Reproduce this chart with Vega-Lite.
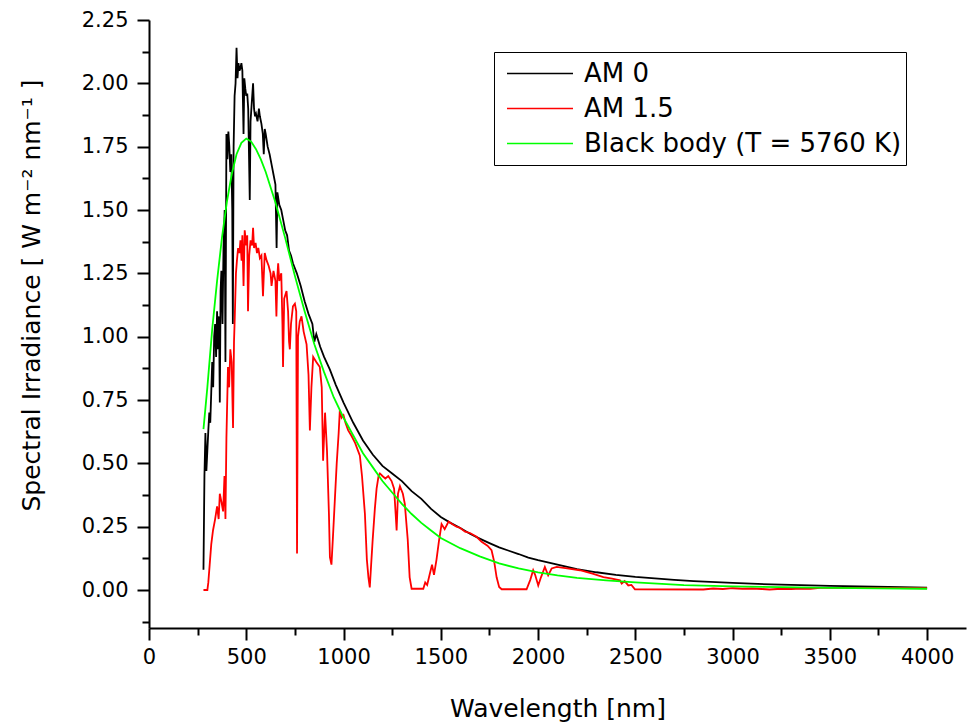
{
  "$schema": "https://vega.github.io/schema/vega-lite/v6.json",
  "width": 817,
  "height": 608,
  "autosize": {"type": "none"},
  "padding": {"left": 149, "top": 20, "right": 2, "bottom": 94},
  "background": "white",
  "data": {"values": [
    {"series":"AM 0","wavelength":280,"irradiance":0.08},{"series":"AM 0","wavelength":285,"irradiance":0.45},{"series":"AM 0","wavelength":290,"irradiance":0.62},{"series":"AM 0","wavelength":295,"irradiance":0.47},{"series":"AM 0","wavelength":300,"irradiance":0.55},{"series":"AM 0","wavelength":305,"irradiance":0.63},{"series":"AM 0","wavelength":310,"irradiance":0.70},{"series":"AM 0","wavelength":315,"irradiance":0.66},{"series":"AM 0","wavelength":320,"irradiance":0.78},{"series":"AM 0","wavelength":325,"irradiance":0.90},{"series":"AM 0","wavelength":330,"irradiance":0.80},{"series":"AM 0","wavelength":335,"irradiance":1.00},{"series":"AM 0","wavelength":340,"irradiance":1.05},{"series":"AM 0","wavelength":345,"irradiance":0.92},{"series":"AM 0","wavelength":350,"irradiance":1.10},{"series":"AM 0","wavelength":355,"irradiance":0.95},{"series":"AM 0","wavelength":360,"irradiance":1.08},{"series":"AM 0","wavelength":364,"irradiance":0.74},{"series":"AM 0","wavelength":368,"irradiance":1.18},{"series":"AM 0","wavelength":372,"irradiance":1.26},{"series":"AM 0","wavelength":378,"irradiance":1.05},{"series":"AM 0","wavelength":383,"irradiance":1.35},{"series":"AM 0","wavelength":389,"irradiance":1.50},{"series":"AM 0","wavelength":393,"irradiance":0.90},{"series":"AM 0","wavelength":398,"irradiance":1.80},{"series":"AM 0","wavelength":403,"irradiance":1.70},{"series":"AM 0","wavelength":408,"irradiance":1.81},{"series":"AM 0","wavelength":413,"irradiance":1.75},{"series":"AM 0","wavelength":418,"irradiance":1.65},{"series":"AM 0","wavelength":423,"irradiance":1.72},{"series":"AM 0","wavelength":428,"irradiance":1.50},{"series":"AM 0","wavelength":431,"irradiance":1.05},{"series":"AM 0","wavelength":435,"irradiance":1.75},{"series":"AM 0","wavelength":440,"irradiance":1.95},{"series":"AM 0","wavelength":445,"irradiance":2.00},{"series":"AM 0","wavelength":450,"irradiance":2.14},{"series":"AM 0","wavelength":455,"irradiance":2.02},{"series":"AM 0","wavelength":460,"irradiance":2.08},{"series":"AM 0","wavelength":465,"irradiance":2.05},{"series":"AM 0","wavelength":470,"irradiance":2.06},{"series":"AM 0","wavelength":475,"irradiance":2.08},{"series":"AM 0","wavelength":480,"irradiance":2.05},{"series":"AM 0","wavelength":486,"irradiance":1.80},{"series":"AM 0","wavelength":490,"irradiance":2.02},{"series":"AM 0","wavelength":495,"irradiance":1.98},{"series":"AM 0","wavelength":500,"irradiance":1.95},{"series":"AM 0","wavelength":505,"irradiance":1.96},{"series":"AM 0","wavelength":510,"irradiance":1.90},{"series":"AM 0","wavelength":518,"irradiance":1.54},{"series":"AM 0","wavelength":522,"irradiance":1.85},{"series":"AM 0","wavelength":528,"irradiance":1.92},{"series":"AM 0","wavelength":535,"irradiance":2.00},{"series":"AM 0","wavelength":540,"irradiance":1.90},{"series":"AM 0","wavelength":545,"irradiance":1.87},{"series":"AM 0","wavelength":550,"irradiance":1.88},{"series":"AM 0","wavelength":558,"irradiance":1.85},{"series":"AM 0","wavelength":565,"irradiance":1.90},{"series":"AM 0","wavelength":570,"irradiance":1.87},{"series":"AM 0","wavelength":578,"irradiance":1.84},{"series":"AM 0","wavelength":585,"irradiance":1.80},{"series":"AM 0","wavelength":590,"irradiance":1.72},{"series":"AM 0","wavelength":595,"irradiance":1.82},{"series":"AM 0","wavelength":600,"irradiance":1.80},{"series":"AM 0","wavelength":610,"irradiance":1.75},{"series":"AM 0","wavelength":620,"irradiance":1.72},{"series":"AM 0","wavelength":630,"irradiance":1.68},{"series":"AM 0","wavelength":640,"irradiance":1.64},{"series":"AM 0","wavelength":650,"irradiance":1.60},{"series":"AM 0","wavelength":656,"irradiance":1.35},{"series":"AM 0","wavelength":660,"irradiance":1.57},{"series":"AM 0","wavelength":670,"irradiance":1.52},{"series":"AM 0","wavelength":680,"irradiance":1.50},{"series":"AM 0","wavelength":690,"irradiance":1.46},{"series":"AM 0","wavelength":700,"irradiance":1.42},{"series":"AM 0","wavelength":710,"irradiance":1.40},{"series":"AM 0","wavelength":720,"irradiance":1.34},{"series":"AM 0","wavelength":730,"irradiance":1.32},{"series":"AM 0","wavelength":740,"irradiance":1.29},{"series":"AM 0","wavelength":750,"irradiance":1.27},{"series":"AM 0","wavelength":760,"irradiance":1.25},{"series":"AM 0","wavelength":780,"irradiance":1.20},{"series":"AM 0","wavelength":800,"irradiance":1.14},{"series":"AM 0","wavelength":820,"irradiance":1.09},{"series":"AM 0","wavelength":840,"irradiance":1.05},{"series":"AM 0","wavelength":850,"irradiance":0.98},{"series":"AM 0","wavelength":860,"irradiance":1.01},{"series":"AM 0","wavelength":880,"irradiance":0.96},{"series":"AM 0","wavelength":900,"irradiance":0.92},{"series":"AM 0","wavelength":930,"irradiance":0.87},{"series":"AM 0","wavelength":960,"irradiance":0.81},{"series":"AM 0","wavelength":1000,"irradiance":0.74},{"series":"AM 0","wavelength":1050,"irradiance":0.66},{"series":"AM 0","wavelength":1100,"irradiance":0.59},{"series":"AM 0","wavelength":1150,"irradiance":0.535},{"series":"AM 0","wavelength":1200,"irradiance":0.49},{"series":"AM 0","wavelength":1250,"irradiance":0.46},{"series":"AM 0","wavelength":1300,"irradiance":0.43},{"series":"AM 0","wavelength":1350,"irradiance":0.39},{"series":"AM 0","wavelength":1400,"irradiance":0.36},{"series":"AM 0","wavelength":1450,"irradiance":0.32},{"series":"AM 0","wavelength":1500,"irradiance":0.288},{"series":"AM 0","wavelength":1550,"irradiance":0.265},{"series":"AM 0","wavelength":1600,"irradiance":0.245},{"series":"AM 0","wavelength":1650,"irradiance":0.222},{"series":"AM 0","wavelength":1700,"irradiance":0.203},{"series":"AM 0","wavelength":1750,"irradiance":0.185},{"series":"AM 0","wavelength":1800,"irradiance":0.168},{"series":"AM 0","wavelength":1850,"irradiance":0.155},{"series":"AM 0","wavelength":1900,"irradiance":0.142},{"series":"AM 0","wavelength":1950,"irradiance":0.128},{"series":"AM 0","wavelength":2000,"irradiance":0.118},{"series":"AM 0","wavelength":2100,"irradiance":0.10},{"series":"AM 0","wavelength":2200,"irradiance":0.082},{"series":"AM 0","wavelength":2300,"irradiance":0.07},{"series":"AM 0","wavelength":2400,"irradiance":0.06},{"series":"AM 0","wavelength":2500,"irradiance":0.052},{"series":"AM 0","wavelength":2600,"irradiance":0.046},{"series":"AM 0","wavelength":2700,"irradiance":0.04},{"series":"AM 0","wavelength":2800,"irradiance":0.035},{"series":"AM 0","wavelength":3000,"irradiance":0.028},{"series":"AM 0","wavelength":3200,"irradiance":0.022},{"series":"AM 0","wavelength":3500,"irradiance":0.016},{"series":"AM 0","wavelength":3800,"irradiance":0.012},{"series":"AM 0","wavelength":4000,"irradiance":0.009},

    {"series":"AM 1.5","wavelength":280,"irradiance":0},{"series":"AM 1.5","wavelength":300,"irradiance":0},{"series":"AM 1.5","wavelength":305,"irradiance":0.03},{"series":"AM 1.5","wavelength":312,"irradiance":0.10},{"series":"AM 1.5","wavelength":320,"irradiance":0.18},{"series":"AM 1.5","wavelength":329,"irradiance":0.235},{"series":"AM 1.5","wavelength":340,"irradiance":0.28},{"series":"AM 1.5","wavelength":350,"irradiance":0.33},{"series":"AM 1.5","wavelength":358,"irradiance":0.28},{"series":"AM 1.5","wavelength":364,"irradiance":0.38},{"series":"AM 1.5","wavelength":372,"irradiance":0.35},{"series":"AM 1.5","wavelength":381,"irradiance":0.31},{"series":"AM 1.5","wavelength":388,"irradiance":0.45},{"series":"AM 1.5","wavelength":393,"irradiance":0.28},{"series":"AM 1.5","wavelength":398,"irradiance":0.60},{"series":"AM 1.5","wavelength":406,"irradiance":0.88},{"series":"AM 1.5","wavelength":412,"irradiance":0.80},{"series":"AM 1.5","wavelength":418,"irradiance":0.95},{"series":"AM 1.5","wavelength":425,"irradiance":0.90},{"series":"AM 1.5","wavelength":432,"irradiance":0.64},{"series":"AM 1.5","wavelength":437,"irradiance":0.98},{"series":"AM 1.5","wavelength":441,"irradiance":1.08},{"series":"AM 1.5","wavelength":447,"irradiance":1.25},{"series":"AM 1.5","wavelength":452,"irradiance":1.30},{"series":"AM 1.5","wavelength":458,"irradiance":1.35},{"series":"AM 1.5","wavelength":465,"irradiance":1.33},{"series":"AM 1.5","wavelength":470,"irradiance":1.38},{"series":"AM 1.5","wavelength":476,"irradiance":1.30},{"series":"AM 1.5","wavelength":480,"irradiance":1.40},{"series":"AM 1.5","wavelength":486,"irradiance":1.20},{"series":"AM 1.5","wavelength":492,"irradiance":1.42},{"series":"AM 1.5","wavelength":500,"irradiance":1.36},{"series":"AM 1.5","wavelength":505,"irradiance":1.40},{"series":"AM 1.5","wavelength":509,"irradiance":1.10},{"series":"AM 1.5","wavelength":515,"irradiance":1.32},{"series":"AM 1.5","wavelength":522,"irradiance":1.38},{"series":"AM 1.5","wavelength":530,"irradiance":1.36},{"series":"AM 1.5","wavelength":535,"irradiance":1.43},{"series":"AM 1.5","wavelength":540,"irradiance":1.35},{"series":"AM 1.5","wavelength":548,"irradiance":1.37},{"series":"AM 1.5","wavelength":555,"irradiance":1.33},{"series":"AM 1.5","wavelength":562,"irradiance":1.35},{"series":"AM 1.5","wavelength":570,"irradiance":1.31},{"series":"AM 1.5","wavelength":578,"irradiance":1.32},{"series":"AM 1.5","wavelength":586,"irradiance":1.16},{"series":"AM 1.5","wavelength":590,"irradiance":1.24},{"series":"AM 1.5","wavelength":595,"irradiance":1.33},{"series":"AM 1.5","wavelength":605,"irradiance":1.30},{"series":"AM 1.5","wavelength":615,"irradiance":1.28},{"series":"AM 1.5","wavelength":625,"irradiance":1.25},{"series":"AM 1.5","wavelength":630,"irradiance":1.20},{"series":"AM 1.5","wavelength":640,"irradiance":1.26},{"series":"AM 1.5","wavelength":650,"irradiance":1.22},{"series":"AM 1.5","wavelength":655,"irradiance":1.08},{"series":"AM 1.5","wavelength":660,"irradiance":1.24},{"series":"AM 1.5","wavelength":664,"irradiance":1.29},{"series":"AM 1.5","wavelength":670,"irradiance":1.22},{"series":"AM 1.5","wavelength":680,"irradiance":1.25},{"series":"AM 1.5","wavelength":686,"irradiance":1.05},{"series":"AM 1.5","wavelength":689,"irradiance":0.88},{"series":"AM 1.5","wavelength":695,"irradiance":1.15},{"series":"AM 1.5","wavelength":707,"irradiance":1.18},{"series":"AM 1.5","wavelength":715,"irradiance":1.10},{"series":"AM 1.5","wavelength":720,"irradiance":0.98},{"series":"AM 1.5","wavelength":724,"irradiance":0.95},{"series":"AM 1.5","wavelength":730,"irradiance":1.05},{"series":"AM 1.5","wavelength":740,"irradiance":1.12},{"series":"AM 1.5","wavelength":750,"irradiance":1.13},{"series":"AM 1.5","wavelength":757,"irradiance":1.10},{"series":"AM 1.5","wavelength":761,"irradiance":0.144},{"series":"AM 1.5","wavelength":766,"irradiance":1.00},{"series":"AM 1.5","wavelength":775,"irradiance":1.06},{"series":"AM 1.5","wavelength":784,"irradiance":1.08},{"series":"AM 1.5","wavelength":795,"irradiance":1.02},{"series":"AM 1.5","wavelength":810,"irradiance":0.97},{"series":"AM 1.5","wavelength":820,"irradiance":0.85},{"series":"AM 1.5","wavelength":827,"irradiance":0.63},{"series":"AM 1.5","wavelength":835,"irradiance":0.80},{"series":"AM 1.5","wavelength":844,"irradiance":0.92},{"series":"AM 1.5","wavelength":860,"irradiance":0.90},{"series":"AM 1.5","wavelength":878,"irradiance":0.88},{"series":"AM 1.5","wavelength":888,"irradiance":0.80},{"series":"AM 1.5","wavelength":895,"irradiance":0.51},{"series":"AM 1.5","wavelength":905,"irradiance":0.70},{"series":"AM 1.5","wavelength":915,"irradiance":0.55},{"series":"AM 1.5","wavelength":925,"irradiance":0.30},{"series":"AM 1.5","wavelength":930,"irradiance":0.13},{"series":"AM 1.5","wavelength":938,"irradiance":0.10},{"series":"AM 1.5","wavelength":945,"irradiance":0.20},{"series":"AM 1.5","wavelength":955,"irradiance":0.35},{"series":"AM 1.5","wavelength":965,"irradiance":0.50},{"series":"AM 1.5","wavelength":975,"irradiance":0.62},{"series":"AM 1.5","wavelength":981,"irradiance":0.71},{"series":"AM 1.5","wavelength":990,"irradiance":0.68},{"series":"AM 1.5","wavelength":1000,"irradiance":0.69},{"series":"AM 1.5","wavelength":1010,"irradiance":0.66},{"series":"AM 1.5","wavelength":1024,"irradiance":0.63},{"series":"AM 1.5","wavelength":1040,"irradiance":0.61},{"series":"AM 1.5","wavelength":1060,"irradiance":0.58},{"series":"AM 1.5","wavelength":1084,"irradiance":0.53},{"series":"AM 1.5","wavelength":1095,"irradiance":0.45},{"series":"AM 1.5","wavelength":1110,"irradiance":0.30},{"series":"AM 1.5","wavelength":1120,"irradiance":0.12},{"series":"AM 1.5","wavelength":1128,"irradiance":0.05},{"series":"AM 1.5","wavelength":1135,"irradiance":0.01},{"series":"AM 1.5","wavelength":1142,"irradiance":0.10},{"series":"AM 1.5","wavelength":1150,"irradiance":0.20},{"series":"AM 1.5","wavelength":1161,"irradiance":0.32},{"series":"AM 1.5","wavelength":1170,"irradiance":0.40},{"series":"AM 1.5","wavelength":1180,"irradiance":0.45},{"series":"AM 1.5","wavelength":1187,"irradiance":0.46},{"series":"AM 1.5","wavelength":1200,"irradiance":0.45},{"series":"AM 1.5","wavelength":1215,"irradiance":0.44},{"series":"AM 1.5","wavelength":1230,"irradiance":0.45},{"series":"AM 1.5","wavelength":1247,"irradiance":0.43},{"series":"AM 1.5","wavelength":1260,"irradiance":0.40},{"series":"AM 1.5","wavelength":1268,"irradiance":0.30},{"series":"AM 1.5","wavelength":1273,"irradiance":0.235},{"series":"AM 1.5","wavelength":1280,"irradiance":0.38},{"series":"AM 1.5","wavelength":1290,"irradiance":0.41},{"series":"AM 1.5","wavelength":1305,"irradiance":0.38},{"series":"AM 1.5","wavelength":1315,"irradiance":0.34},{"series":"AM 1.5","wavelength":1330,"irradiance":0.20},{"series":"AM 1.5","wavelength":1340,"irradiance":0.05},{"series":"AM 1.5","wavelength":1350,"irradiance":0.005},{"series":"AM 1.5","wavelength":1410,"irradiance":0.005},{"series":"AM 1.5","wavelength":1420,"irradiance":0.03},{"series":"AM 1.5","wavelength":1430,"irradiance":0.02},{"series":"AM 1.5","wavelength":1444,"irradiance":0.065},{"series":"AM 1.5","wavelength":1455,"irradiance":0.10},{"series":"AM 1.5","wavelength":1465,"irradiance":0.06},{"series":"AM 1.5","wavelength":1478,"irradiance":0.12},{"series":"AM 1.5","wavelength":1490,"irradiance":0.19},{"series":"AM 1.5","wavelength":1504,"irradiance":0.26},{"series":"AM 1.5","wavelength":1520,"irradiance":0.24},{"series":"AM 1.5","wavelength":1540,"irradiance":0.27},{"series":"AM 1.5","wavelength":1560,"irradiance":0.26},{"series":"AM 1.5","wavelength":1581,"irradiance":0.25},{"series":"AM 1.5","wavelength":1600,"irradiance":0.245},{"series":"AM 1.5","wavelength":1625,"irradiance":0.23},{"series":"AM 1.5","wavelength":1650,"irradiance":0.225},{"series":"AM 1.5","wavelength":1684,"irradiance":0.21},{"series":"AM 1.5","wavelength":1710,"irradiance":0.19},{"series":"AM 1.5","wavelength":1740,"irradiance":0.175},{"series":"AM 1.5","wavelength":1761,"irradiance":0.157},{"series":"AM 1.5","wavelength":1775,"irradiance":0.11},{"series":"AM 1.5","wavelength":1787,"irradiance":0.05},{"series":"AM 1.5","wavelength":1800,"irradiance":0.012},{"series":"AM 1.5","wavelength":1813,"irradiance":0.003},{"series":"AM 1.5","wavelength":1941,"irradiance":0.003},{"series":"AM 1.5","wavelength":1960,"irradiance":0.04},{"series":"AM 1.5","wavelength":1975,"irradiance":0.078},{"series":"AM 1.5","wavelength":1985,"irradiance":0.06},{"series":"AM 1.5","wavelength":2001,"irradiance":0.018},{"series":"AM 1.5","wavelength":2015,"irradiance":0.05},{"series":"AM 1.5","wavelength":2035,"irradiance":0.091},{"series":"AM 1.5","wavelength":2052,"irradiance":0.058},{"series":"AM 1.5","wavelength":2070,"irradiance":0.085},{"series":"AM 1.5","wavelength":2096,"irradiance":0.091},{"series":"AM 1.5","wavelength":2150,"irradiance":0.085},{"series":"AM 1.5","wavelength":2215,"irradiance":0.078},{"series":"AM 1.5","wavelength":2280,"irradiance":0.065},{"series":"AM 1.5","wavelength":2336,"irradiance":0.051},{"series":"AM 1.5","wavelength":2380,"irradiance":0.045},{"series":"AM 1.5","wavelength":2421,"irradiance":0.038},{"series":"AM 1.5","wavelength":2430,"irradiance":0.025},{"series":"AM 1.5","wavelength":2445,"irradiance":0.035},{"series":"AM 1.5","wavelength":2464,"irradiance":0.018},{"series":"AM 1.5","wavelength":2480,"irradiance":0.02},{"series":"AM 1.5","wavelength":2498,"irradiance":0.003},{"series":"AM 1.5","wavelength":2850,"irradiance":0.002},{"series":"AM 1.5","wavelength":2900,"irradiance":0.006},{"series":"AM 1.5","wavelength":2950,"irradiance":0.004},{"series":"AM 1.5","wavelength":3000,"irradiance":0.007},{"series":"AM 1.5","wavelength":3050,"irradiance":0.005},{"series":"AM 1.5","wavelength":3100,"irradiance":0.006},{"series":"AM 1.5","wavelength":3150,"irradiance":0.004},{"series":"AM 1.5","wavelength":3190,"irradiance":0.002},{"series":"AM 1.5","wavelength":3250,"irradiance":0.005},{"series":"AM 1.5","wavelength":3300,"irradiance":0.004},{"series":"AM 1.5","wavelength":3350,"irradiance":0.006},{"series":"AM 1.5","wavelength":3400,"irradiance":0.005},{"series":"AM 1.5","wavelength":3450,"irradiance":0.008},{"series":"AM 1.5","wavelength":3700,"irradiance":0.008},{"series":"AM 1.5","wavelength":4000,"irradiance":0.007},

    {"series":"Black body (T = 5760 K)","wavelength":280,"irradiance":0.635},{"series":"Black body (T = 5760 K)","wavelength":300,"irradiance":0.80},{"series":"Black body (T = 5760 K)","wavelength":325,"irradiance":1.03},{"series":"Black body (T = 5760 K)","wavelength":350,"irradiance":1.22},{"series":"Black body (T = 5760 K)","wavelength":375,"irradiance":1.39},{"series":"Black body (T = 5760 K)","wavelength":400,"irradiance":1.53},{"series":"Black body (T = 5760 K)","wavelength":425,"irradiance":1.64},{"series":"Black body (T = 5760 K)","wavelength":450,"irradiance":1.72},{"series":"Black body (T = 5760 K)","wavelength":475,"irradiance":1.765},{"series":"Black body (T = 5760 K)","wavelength":500,"irradiance":1.782},{"series":"Black body (T = 5760 K)","wavelength":525,"irradiance":1.77},{"series":"Black body (T = 5760 K)","wavelength":550,"irradiance":1.74},{"series":"Black body (T = 5760 K)","wavelength":575,"irradiance":1.70},{"series":"Black body (T = 5760 K)","wavelength":600,"irradiance":1.65},{"series":"Black body (T = 5760 K)","wavelength":650,"irradiance":1.53},{"series":"Black body (T = 5760 K)","wavelength":700,"irradiance":1.39},{"series":"Black body (T = 5760 K)","wavelength":750,"irradiance":1.24},{"series":"Black body (T = 5760 K)","wavelength":800,"irradiance":1.10},{"series":"Black body (T = 5760 K)","wavelength":850,"irradiance":0.97},{"series":"Black body (T = 5760 K)","wavelength":900,"irradiance":0.86},{"series":"Black body (T = 5760 K)","wavelength":950,"irradiance":0.76},{"series":"Black body (T = 5760 K)","wavelength":1000,"irradiance":0.68},{"series":"Black body (T = 5760 K)","wavelength":1050,"irradiance":0.61},{"series":"Black body (T = 5760 K)","wavelength":1100,"irradiance":0.54},{"series":"Black body (T = 5760 K)","wavelength":1150,"irradiance":0.485},{"series":"Black body (T = 5760 K)","wavelength":1200,"irradiance":0.43},{"series":"Black body (T = 5760 K)","wavelength":1250,"irradiance":0.385},{"series":"Black body (T = 5760 K)","wavelength":1300,"irradiance":0.34},{"series":"Black body (T = 5760 K)","wavelength":1350,"irradiance":0.30},{"series":"Black body (T = 5760 K)","wavelength":1400,"irradiance":0.265},{"series":"Black body (T = 5760 K)","wavelength":1450,"irradiance":0.235},{"series":"Black body (T = 5760 K)","wavelength":1500,"irradiance":0.205},{"series":"Black body (T = 5760 K)","wavelength":1600,"irradiance":0.165},{"series":"Black body (T = 5760 K)","wavelength":1700,"irradiance":0.133},{"series":"Black body (T = 5760 K)","wavelength":1800,"irradiance":0.105},{"series":"Black body (T = 5760 K)","wavelength":1900,"irradiance":0.085},{"series":"Black body (T = 5760 K)","wavelength":2000,"irradiance":0.07},{"series":"Black body (T = 5760 K)","wavelength":2100,"irradiance":0.058},{"series":"Black body (T = 5760 K)","wavelength":2200,"irradiance":0.048},{"series":"Black body (T = 5760 K)","wavelength":2350,"irradiance":0.038},{"series":"Black body (T = 5760 K)","wavelength":2500,"irradiance":0.03},{"series":"Black body (T = 5760 K)","wavelength":2750,"irradiance":0.019},{"series":"Black body (T = 5760 K)","wavelength":3000,"irradiance":0.014},{"series":"Black body (T = 5760 K)","wavelength":3250,"irradiance":0.011},{"series":"Black body (T = 5760 K)","wavelength":3500,"irradiance":0.008},{"series":"Black body (T = 5760 K)","wavelength":3750,"irradiance":0.0065},{"series":"Black body (T = 5760 K)","wavelength":4000,"irradiance":0.005}
  ]},
  "layer": [
    {
      "mark": {"type": "line", "strokeWidth": 1.8},
      "encoding": {
        "x": {"field": "wavelength", "type": "quantitative",
          "scale": {"domain": [0, 4200], "nice": false, "zero": false},
          "axis": {"values": [0,500,1000,1500,2000,2500,3000,3500,4000], "format": "d", "orient": "bottom",
            "title": "Wavelength [nm]", "titleY": 88, "titleBaseline": "alphabetic",
            "labelPadding": 6, "labelFlush": false}},
        "y": {"field": "irradiance", "type": "quantitative",
          "scale": {"domain": [-0.15, 2.25], "nice": false, "zero": false},
          "axis": {"values": [0,0.25,0.5,0.75,1,1.25,1.5,1.75,2,2.25], "format": ".2f", "orient": "left",
            "title": "Spectral Irradiance [ W m⁻² nm⁻¹ ]", "titleX": -110, "titleY": 275, "titleBaseline": "alphabetic",
            "labelPadding": 9, "labelFlush": false}},
        "color": {"field": "series", "type": "nominal",
          "scale": {"domain": ["AM 0", "AM 1.5", "Black body (T = 5760 K)"], "range": ["#000000", "#ff0000", "#00ff00"]},
          "legend": {"title": null, "orient": "none", "legendX": 345, "legendY": 32,
            "symbolType": "stroke", "symbolSize": 4356, "symbolStrokeWidth": 1.5, "symbolOffset": 8,
            "clipHeight": 35, "rowPadding": 0, "padding": 4, "labelOffset": 10,
            "labelFontSize": 26, "labelLimit": 600, "labelColor": "black",
            "strokeColor": "black", "fillColor": "white", "cornerRadius": 0}}
      }
    },
    {
      "mark": {"type": "line", "strokeOpacity": 0},
      "encoding": {
        "x": {"field": "wavelength", "type": "quantitative",
          "axis": {"values": [250,750,1250,1750,2250,2750,3250,3750], "orient": "bottom", "labels": false, "domain": false, "tickSize": 7, "title": null}},
        "y": {"field": "irradiance", "type": "quantitative",
          "axis": {"values": [-0.125,0.125,0.375,0.625,0.875,1.125,1.375,1.625,1.875,2.125], "orient": "left", "labels": false, "domain": false, "tickSize": 7, "title": null}},
        "detail": {"field": "series", "type": "nominal"}
      }
    }
  ],
  "resolve": {"axis": {"x": "independent", "y": "independent"}},
  "config": {
    "view": {"stroke": null},
    "font": "DejaVu Sans",
    "axis": {"grid": false, "domainColor": "black", "domainWidth": 2, "tickColor": "black", "tickWidth": 2, "tickSize": 12,
      "labelFont": "DejaVu Sans", "labelFontSize": 21, "labelColor": "black",
      "titleFont": "DejaVu Sans", "titleFontSize": 25, "titleFontWeight": "normal", "titleColor": "black"},
    "legend": {"labelFont": "DejaVu Sans"}
  }
}
